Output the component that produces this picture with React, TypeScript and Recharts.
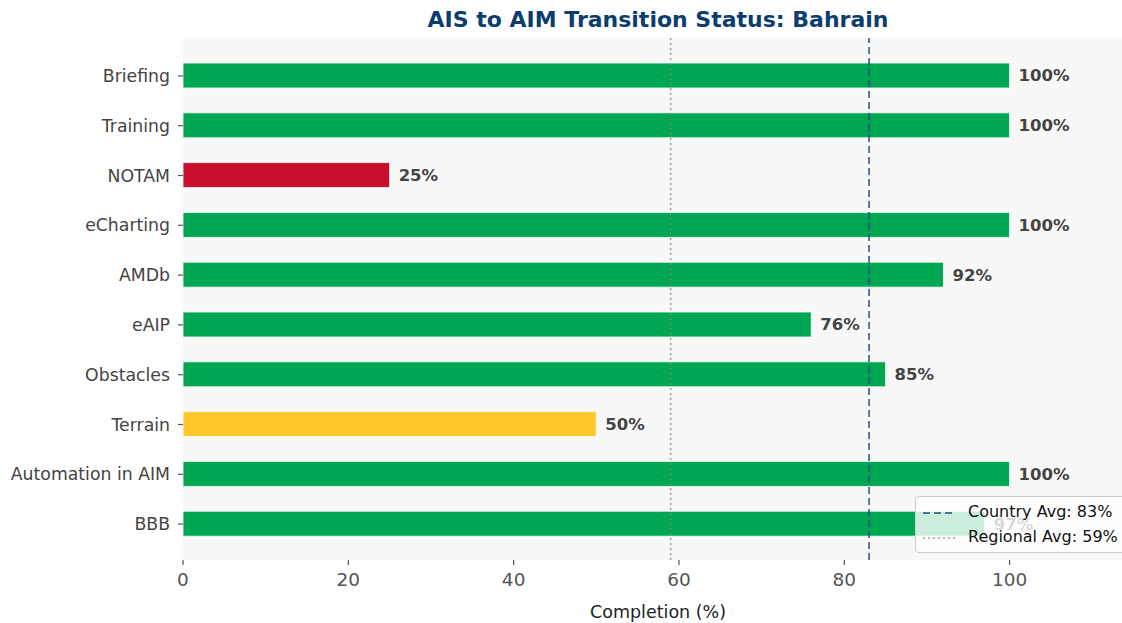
import React from 'react';
import {
  BarChart, Bar, XAxis, YAxis, Cell, LabelList, ReferenceLine, CartesianGrid,
} from 'recharts';

const categories = ['Briefing', 'Training', 'NOTAM', 'eCharting', 'AMDb', 'eAIP', 'Obstacles', 'Terrain', 'Automation in AIM', 'BBB'];
const completion = [100, 100, 25, 100, 92, 76, 85, 50, 100, 97];
const barColors = ['#00A651', '#00A651', '#C8102E', '#00A651', '#00A651', '#00A651', '#00A651', '#FFC72C', '#00A651', '#00A651'];
const xTicks = [0, 20, 40, 60, 80, 100];
const countryAvg = 83;
const regionalAvg = 59;
const title = 'AIS to AIM Transition Status: Bahrain';
const xLabel = 'Completion (%)';

const data = categories.map((name, i) => ({ name, value: completion[i] }));

const FONT = '"DejaVu Sans", sans-serif';

export default function App() {
  return (
    <div style={{ position: 'absolute', left: 0, top: 0, width: 1122, height: 623, overflow: 'hidden', fontFamily: FONT, background: '#fff' }}>
      <div style={{ position: 'absolute', left: 183, top: 7, width: 950, textAlign: 'center', fontSize: 22, fontWeight: 'bold', color: '#0B3D6E', whiteSpace: 'nowrap' }}>
        {title}
      </div>
      <BarChart
        width={1122}
        height={623}
        data={data}
        layout="vertical"
        margin={{ top: 38, right: 0, bottom: 0, left: 0 }}
        style={{ fontFamily: FONT }}
      >
        <CartesianGrid fill="#F8F8F8" stroke="none" horizontal={false} vertical={false} />
        <XAxis
          type="number"
          domain={[0, 113.6]}
          ticks={xTicks}
          allowDataOverflow
          height={63}
          axisLine={false}
          tickLine={{ stroke: '#555', strokeWidth: 1.2 }}
          tickSize={5}
          tickMargin={8}
          tick={{ fill: '#555', fontSize: 18.5, fontFamily: FONT }}
        />
        <YAxis
          type="category"
          dataKey="name"
          width={183}
          axisLine={false}
          tickLine={{ stroke: '#555', strokeWidth: 1.2 }}
          tickSize={5}
          tickMargin={8}
          padding={{ top: 13, bottom: 11 }}
          interval={0}
          tick={{ fill: '#444', fontSize: 17.3, fontFamily: FONT }}
        />
        <Bar dataKey="value" barSize={25} isAnimationActive={false} stroke="#ffffff" strokeWidth={0.8}>
          {data.map((d, i) => (
            <Cell key={d.name} fill={barColors[i]} />
          ))}
          <LabelList
            dataKey="value"
            position="right"
            offset={9}
            formatter={(v: number) => `${v}%`}
            style={{ fill: '#444', fontSize: 16.5, fontWeight: 'bold', fontFamily: FONT }}
          />
        </Bar>
        <ReferenceLine x={countryAvg} stroke="#1F4E79" strokeOpacity={0.75} strokeWidth={2} strokeDasharray="7 4" />
        <ReferenceLine x={regionalAvg} stroke="#888" strokeOpacity={0.8} strokeWidth={1.5} strokeDasharray="2 3" />
      </BarChart>
      <div style={{ position: 'absolute', left: 183, top: 602, width: 950, textAlign: 'center', fontSize: 17.5, color: '#222', whiteSpace: 'nowrap' }}>
        {xLabel}
      </div>
      <div style={{ position: 'absolute', left: 915, top: 496, width: 215, height: 57, border: '1px solid #ccc', borderRadius: 4, background: 'rgba(255,255,255,0.8)', boxSizing: 'border-box', fontSize: 16, color: '#111' }}>
        <svg width={45} height={56} style={{ position: 'absolute', left: 0, top: 0 }}>
          <line x1={7} x2={40} y1={16} y2={16} stroke="#1F4E79" strokeOpacity={0.75} strokeWidth={2} strokeDasharray="7 4" />
          <line x1={7} x2={40} y1={41} y2={41} stroke="#888" strokeOpacity={0.8} strokeWidth={1.5} strokeDasharray="2 3" />
        </svg>
        <div style={{ position: 'absolute', left: 52, top: 5, whiteSpace: 'nowrap', lineHeight: '20px' }}>Country Avg: {countryAvg}%</div>
        <div style={{ position: 'absolute', left: 52, top: 30, whiteSpace: 'nowrap', lineHeight: '20px' }}>Regional Avg: {regionalAvg}%</div>
      </div>
    </div>
  );
}
